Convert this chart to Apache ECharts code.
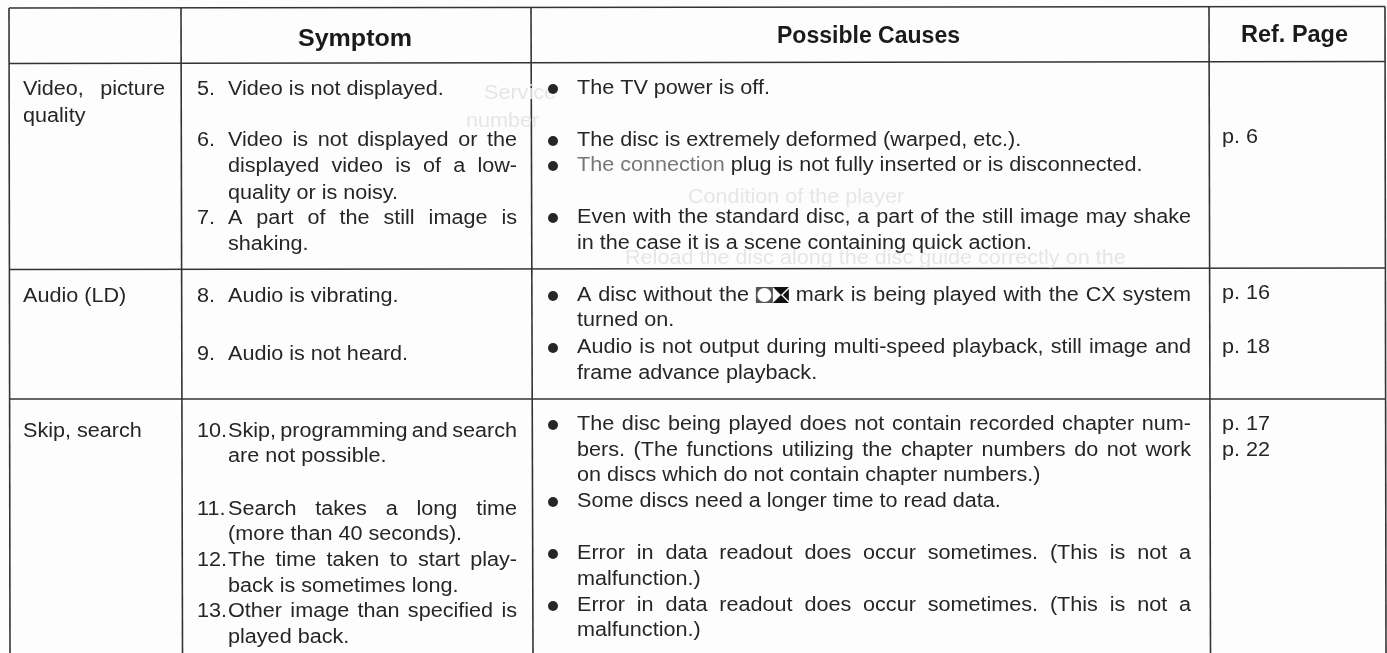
<!DOCTYPE html>
<html>
<head>
<meta charset="utf-8">
<title>Troubleshooting table</title>
<style>
  html, body { margin: 0; padding: 0; background: #fdfdfd; }
  #chart { width: 1387px; height: 653px; }
</style>
<script src="https://cdn.jsdelivr.net/npm/echarts@6/dist/echarts.min.js"></script>
</head>
<body>
<div id="chart"></div>
<script>
// table text
const headers = ["Symptom", "Possible Causes", "Ref. Page"]
const categoryLines = ["Video, picture", "quality", "Audio (LD)", "Skip, search"]
const symptomNumbers = ["5.", "6.", "7.", "8.", "9.", "10.", "11.", "12.", "13."]
const symptomLines = [
  "Video is not displayed.",
  "Video is not displayed or the",
  "displayed video is of a low-",
  "quality or is noisy.",
  "A part of the still image is",
  "shaking.",
  "Audio is vibrating.",
  "Audio is not heard.",
  "Skip, programming and search",
  "are not possible.",
  "Search takes a long time",
  "(more than 40 seconds).",
  "The time taken to start play-",
  "back is sometimes long.",
  "Other image than specified is",
  "played back."
]
const causeLines = [
  "The TV power is off.",
  "The disc is extremely deformed (warped, etc.).",
  "The connection plug is not fully inserted or is disconnected.",
  "Even with the standard disc, a part of the still image may shake",
  "in the case it is a scene containing quick action.",
  "A disc without the [CX] mark is being played with the CX system",
  "turned on.",
  "Audio is not output during multi-speed playback, still image and",
  "frame advance playback.",
  "The disc being played does not contain recorded chapter num-",
  "bers. (The functions utilizing the chapter numbers do not work",
  "on discs which do not contain chapter numbers.)",
  "Some discs need a longer time to read data.",
  "Error in data readout does occur sometimes. (This is not a",
  "malfunction.)",
  "Error in data readout does occur sometimes. (This is not a",
  "malfunction.)"
]
const refLines = ["p. 6", "p. 16", "p. 18", "p. 17", "p. 22"]
// print from the back of the page that shows through the scan
const ghostLines = ["Service", "number", "Condition of the player", "Reload the disc along the disc guide correctly on the"]

// layout, in page pixels
const headerX = [298, 777, 1241]
const headerY = [40, 37, 36]
const headerWidth = [114, 183, 107]
const categoryY = [89, 116, 296, 431]
const numberY = [89, 140, 218, 296, 354, 431, 509, 560, 611]
const symptomY = [89, 140, 166, 193, 218, 244, 296, 354, 431, 456, 509, 534, 560, 586, 611, 637]
const causeY = [88, 140, 165, 217, 243, 295, 320, 347, 373, 424, 450, 475, 501, 553, 579, 605, 630]
const refY = [137, 293, 347, 424, 450]
const ghostX = [484, 466, 688, 625]
const ghostY = [93, 121, 197, 258]
const bulletLines = [0, 1, 2, 3, 5, 7, 9, 12, 13, 15]
const symptomJustified = [1, 2, 4, 8, 10, 12, 14]
const causeJustified = [3, 5, 7, 9, 10, 13, 15]
const rules = [
  [9, 8, 1385, 6.5],
  [9, 63.5, 1385, 61.5],
  [9, 269.5, 1385, 268],
  [9, 399, 1385, 399],
  [9, 8, 10, 653],
  [181, 8, 182.5, 653],
  [531, 8, 533, 653],
  [1209, 7, 1210.5, 653],
  [1385, 6.5, 1386, 653]
]

const fontFamily = "'Liberation Sans', Arial, sans-serif"
const fontSize = 20
const headerFontSize = 23
const stretch = 1.08
const ink = "#262626"
const faded = "#777"
const ghostInk = "#e6e6e6"

const measure = document.createElement("canvas").getContext("2d")
measure.font = fontSize + "px 'Liberation Sans'"

// splits a line into words with their left edge, spreading the gaps if it has to reach right
const placeWords = (text, left, right) => {
  const words = text.split(" ")
  const widths = words.map(w => w === "[CX]" ? 33 : measure.measureText(w).width * stretch)
  let gap = measure.measureText(" ").width * stretch
  if (right !== null && words.length > 1) {
    gap = (right - left - widths.reduce((a, b) => a + b, 0)) / (words.length - 1)
  }
  let x = left
  return words.map((w, i) => {
    const item = { word: w, x: x }
    x += widths[i] + gap
    return item
  })
}

const textRows = []
ghostLines.forEach((g, i) => {
  textRows.push({ value: [ghostX[i], ghostY[i]], word: g, ghost: true })
})
const addRows = (lines, ys, left, right, justified) => {
  lines.forEach((line, i) => {
    const edge = justified && justified.includes(i) ? right : null
    placeWords(line, left, edge).forEach((p, k) => {
      textRows.push({ value: [p.x, ys[i]], word: p.word, fade: line.startsWith("The connection") && k < 2 })
    })
  })
}
addRows(categoryLines, categoryY, 23, 165, [0])
addRows(symptomNumbers, numberY, 197, null, null)
addRows(symptomLines, symptomY, 228, 517, symptomJustified)
addRows(causeLines, causeY, 577, 1191, causeJustified)
addRows(refLines, refY, 1222, null, null)

// header cells are fitted to the width they have in the scan
measure.font = "bold " + headerFontSize + "px 'Liberation Sans'"
headers.forEach((h, i) => {
  textRows.push({
    value: [headerX[i], headerY[i]],
    word: h,
    bold: true,
    scale: headerWidth[i] / measure.measureText(h).width
  })
})

const renderRule = (params, api) => {
  const a = api.coord([api.value(0), api.value(1)])
  const b = api.coord([api.value(2), api.value(3)])
  return {
    type: "line",
    shape: { x1: a[0], y1: a[1], x2: b[0], y2: b[1] },
    style: { stroke: "#333", lineWidth: 1.6 }
  }
}

const renderWord = (params, api) => {
  const row = textRows[params.dataIndex]
  const p = api.coord([api.value(0), api.value(1)])
  if (row.word === "[CX]") {
    // the CX logo: dark box with a white ring, then a box with black top and bottom wedges
    return {
      type: "group",
      x: p[0],
      y: p[1],
      children: [
        { type: "rect", shape: { x: 0, y: -8, width: 17, height: 16 }, style: { fill: "#555" } },
        { type: "circle", shape: { cx: 8.5, cy: 0, r: 7 }, style: { fill: "#fff" } },
        { type: "polygon", shape: { points: [[17, -8], [33, -8], [25, 0]] }, style: { fill: "#111" } },
        { type: "polygon", shape: { points: [[17, 8], [33, 8], [25, 0]] }, style: { fill: "#111" } },
        { type: "polygon", shape: { points: [[33, -6], [33, 6], [27, 0]] }, style: { fill: "#111" } }
      ]
    }
  }
  let color = ink
  if (row.bold) color = "#1a1a1a"
  if (row.fade) color = faded
  if (row.ghost) color = ghostInk
  return {
    type: "text",
    x: p[0],
    y: p[1],
    scaleX: row.bold ? row.scale : stretch,
    style: {
      text: row.word,
      fill: color,
      font: (row.bold ? "bold " + headerFontSize : fontSize) + "px " + fontFamily,
      verticalAlign: "middle",
      align: "left"
    }
  }
}

const myChart = echarts.init(document.getElementById("chart"), null, { renderer: "canvas" })

myChart.setOption({
  animation: false,
  backgroundColor: "#fdfdfd",
  grid: { left: 0, right: 0, top: 0, bottom: 0 },
  xAxis: { type: "value", min: 0, max: 1387, show: false },
  yAxis: { type: "value", min: 0, max: 653, inverse: true, show: false },
  series: [
    {
      name: "text",
      type: "custom",
      coordinateSystem: "cartesian2d",
      renderItem: renderWord,
      data: textRows,
      silent: true,
      z: 3
    },
    {
      name: "rules",
      type: "custom",
      coordinateSystem: "cartesian2d",
      renderItem: renderRule,
      data: rules,
      silent: true,
      z: 2
    },
    {
      name: "bullets",
      type: "scatter",
      symbol: "circle",
      symbolSize: 10,
      silent: true,
      itemStyle: { color: "#262626", opacity: 1 },
      data: bulletLines.map(i => [553, causeY[i] + 1]),
      z: 3
    }
  ]
})

window.addEventListener("resize", () => {
  myChart.resize()
})
</script>
</body>
</html>
